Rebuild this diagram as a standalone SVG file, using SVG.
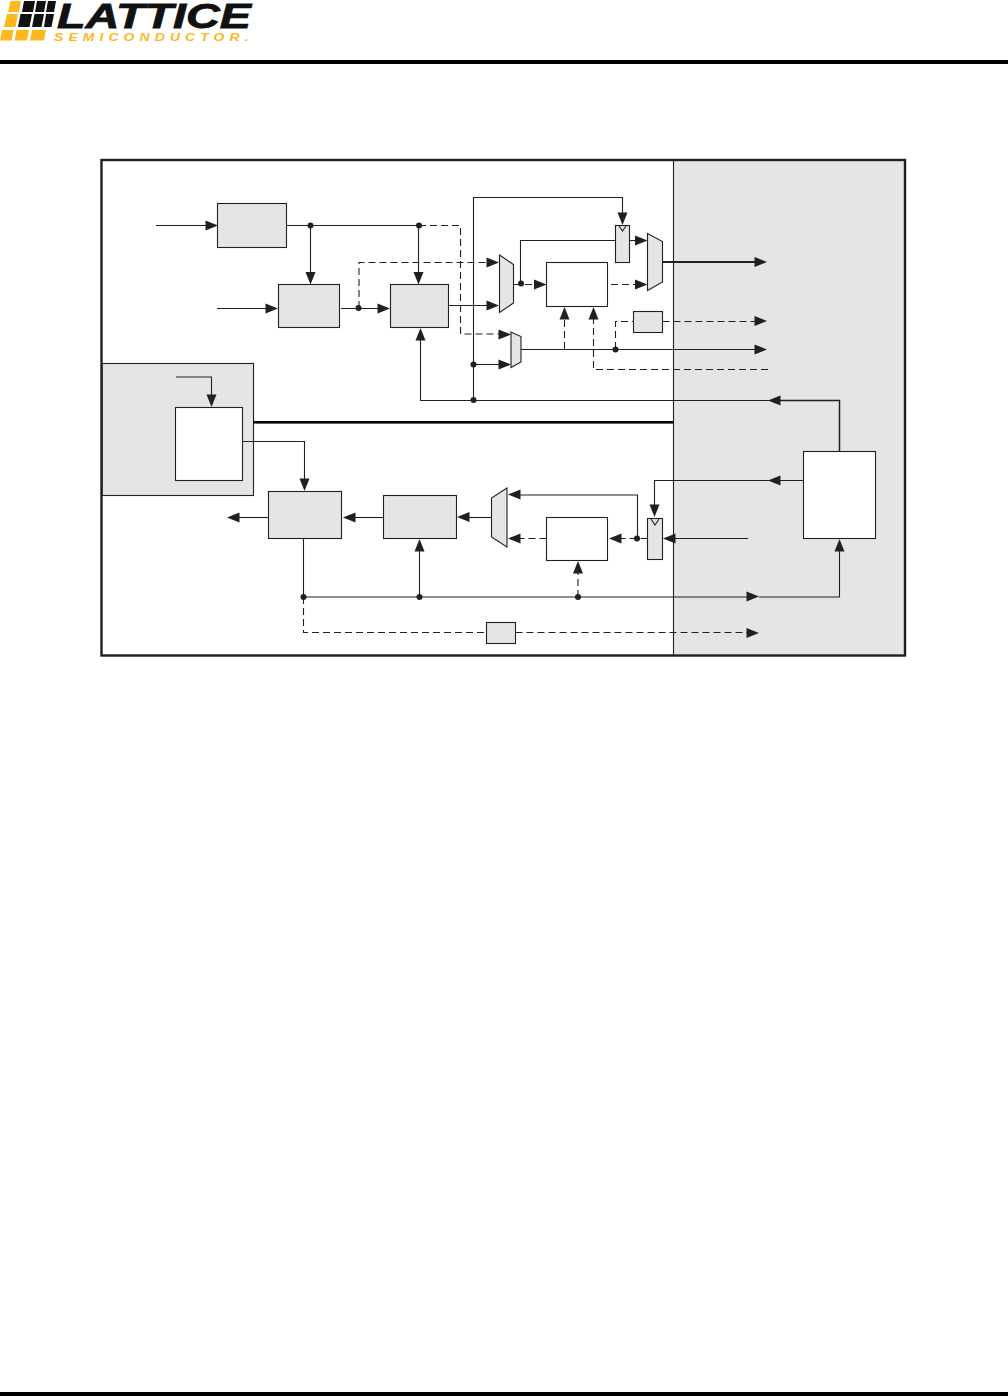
<svg xmlns="http://www.w3.org/2000/svg" width="1008" height="1396" viewBox="0 0 1008 1396">
<style>
.g{fill:#e5e5e5;stroke:#231f20;stroke-width:1.1}
.w{fill:#fff;stroke:#231f20;stroke-width:1.1}
.l{fill:none;stroke:#231f20;stroke-width:1.1}
.d{fill:none;stroke:#231f20;stroke-width:1.1;stroke-dasharray:7 4}
.a{fill:#231f20;stroke:none}
.y{fill:#fdb81e}
.k{fill:#111}
</style>
<defs>
<polygon id="ar" class="a" points="0,0 -12.500,-5 -12.500,5"/>
<circle id="dot" class="a" r="3"/>
</defs>
<g id="logo">
<polygon class="y" points="10.500,1 21,1 19,12 8,12"/>
<polygon class="k" points="24,1 35,1 33,12 22,12"/>
<polygon class="k" points="37,1 46,1 44,12 35,12"/>
<polygon class="k" points="48,1 56,1 54,12 46,12"/>
<polygon class="y" points="7,14 18,14 15.500,27 4,27"/>
<polygon class="k" points="20.500,14 32,14 29.500,27 18,27"/>
<polygon class="k" points="34.500,14 44,14 41.500,27 32,27"/>
<polygon class="k" points="46,14 54,14 51.500,27 44,27"/>
<polygon class="y" points="2,30 13.500,30 11.500,40.500 0,40.500"/>
<polygon class="y" points="16.500,30 29,30 27,40.500 14.500,40.500"/>
<polygon class="y" points="32,30 46,30 44,40.500 30,40.500"/>
<text x="57" y="27.500" font-family="Liberation Sans, sans-serif" font-weight="bold" font-style="italic" font-size="35" textLength="194" lengthAdjust="spacingAndGlyphs" fill="#111" stroke="#111" stroke-width="0.8">LATTICE</text>
<text transform="translate(54,40.500) scale(1.4,1)" font-family="Liberation Sans, sans-serif" font-weight="bold" font-style="italic" font-size="10" textLength="139" fill="#fdb81e">SEMICONDUCTOR.</text>
</g>
<rect x="0" y="60" width="1008" height="4" fill="#000"/>
<rect x="0" y="1392" width="1008" height="4" fill="#000"/>
<g id="frame">
<rect x="673.500" y="160" width="231" height="495" fill="#e5e5e5"/>
<path class="l" d="M673.500 160V655"/>
</g>
<g id="left-panel"><rect class="g" x="102" y="363.500" width="151.500" height="132"/></g>
<rect x="253" y="421" width="421" height="2.600" fill="#000"/>
<rect x="101.500" y="160" width="803.500" height="495.500" fill="none" stroke="#231f20" stroke-width="2.400"/>
<g id="nodes">
<rect id="n1" class="g" x="217.500" y="203.500" width="69" height="44"/>
<rect id="n2" class="g" x="278.500" y="284.500" width="61" height="43"/>
<rect id="n3" class="g" x="390.500" y="284.500" width="58" height="43"/>
<polygon id="m1" class="g" points="499.500,255 513.500,264.500 513.500,303 499.500,312.500"/>
<polygon id="m2" class="g" points="511,332 521,336.500 521,362 511,367.500"/>
<polygon id="m3" class="g" points="647.500,233.500 662.500,241.500 662.500,282 647.500,290.500"/>
<rect id="n4" class="w" x="546.500" y="262.500" width="61" height="44"/>
<rect id="n5" class="g" x="615.500" y="225.500" width="14" height="37"/>
<path id="n5c" class="l" d="M619 226L622.500 231L626 226"/>
<rect id="n6" class="g" x="633.500" y="311.500" width="29" height="21"/>
<rect id="n7" class="w" x="175.500" y="407.500" width="67" height="73"/>
<rect id="n8" class="g" x="268.500" y="491.500" width="73" height="47"/>
<rect id="n9" class="g" x="383.500" y="495.500" width="73" height="43"/>
<polygon id="m4" class="g" points="507,488 491.500,498 491.500,537 507,547"/>
<rect id="n10" class="w" x="546.500" y="517.500" width="61" height="43"/>
<rect id="n11" class="g" x="647.500" y="518.500" width="15" height="41"/>
<path id="n11c" class="l" d="M651 519L655 525L659 519"/>
<rect id="n12" class="g" x="486.500" y="622.500" width="29" height="21"/>
<rect id="n13" class="w" x="803.500" y="451.500" width="72" height="87"/>
</g>
<g id="connectors">
<path class="l" d="M156 225.500H206"/>
<path class="l" d="M286.500 225.500H419"/>
<path class="d" d="M419 225.500H460.500V334H500"/>
<path class="l" d="M310.500 225.500V273"/>
<path class="l" d="M418.500 225.500V273"/>
<path class="l" d="M217 308.500H266"/>
<path class="l" d="M341 308.500H378"/>
<path class="d" d="M359 308V262.500H488"/>
<path class="l" d="M448.500 305.500H488"/>
<path class="l" d="M473.500 400V197.500H622.500V214"/>
<path class="l" d="M473.500 364.500H499"/>
<path class="l" d="M420.500 339V400.500H770"/>
<path class="l" d="M520.500 284V240.500H615.500"/>
<path class="d" d="M514 284.500H535"/>
<path class="l" d="M629.500 240.500H636"/>
<path class="d" d="M611 284.500H636"/>
<path d="M662.500 262H756" fill="none" stroke="#231f20" stroke-width="2"/>
<path class="l" d="M521 349.500H756"/>
<path class="d" d="M564.500 349V318"/>
<path class="d" d="M768 369.500H593.500V318"/>
<path class="d" d="M615.500 349V321.500H633.500"/>
<path class="d" d="M662.500 321.500H756"/>
<path d="M780 400.500H839.500V451.500" fill="none" stroke="#231f20" stroke-width="1.500"/>
<path class="l" d="M176 377H211.500V396"/>
<path class="l" d="M242.500 441.500H304.500V480"/>
<path class="l" d="M268.500 517.500H239"/>
<path class="l" d="M383.500 517.500H354"/>
<path class="l" d="M491.500 517.500H469"/>
<path class="l" d="M637.500 538V495H520"/>
<path class="d" d="M546.500 538.500H520"/>
<path class="d" d="M647.500 538.500H621"/>
<path class="l" d="M748 538.500H675"/>
<path class="l" d="M803.500 480.500H654.500V506"/>
<path class="l" d="M303.500 538.500V597H748"/>
<path class="l" d="M759 597H839.500V550"/>
<path class="l" d="M419.500 597V550"/>
<path class="d" d="M578 597V572"/>
<path class="d" d="M303.500 597V632.500H486.500"/>
<path class="d" d="M515.500 632.500H748"/>
<use href="#ar" transform="translate(218,225.500)"/>
<use href="#ar" transform="translate(278,308.500)"/>
<use href="#ar" transform="translate(310.500,284.500) rotate(90)"/>
<use href="#ar" transform="translate(418.500,284.500) rotate(90)"/>
<use href="#ar" transform="translate(390,308.500)"/>
<use href="#ar" transform="translate(499,262.500)"/>
<use href="#ar" transform="translate(499,305.500)"/>
<use href="#ar" transform="translate(511,334.500)"/>
<use href="#ar" transform="translate(511,364.500)"/>
<use href="#ar" transform="translate(546.500,284.500)"/>
<use href="#ar" transform="translate(622.500,225) rotate(90)"/>
<use href="#ar" transform="translate(647.500,240.500)"/>
<use href="#ar" transform="translate(647.500,284.500)"/>
<use href="#ar" transform="translate(767,262)"/>
<use href="#ar" transform="translate(767,321)"/>
<use href="#ar" transform="translate(767,349.500)"/>
<use href="#ar" transform="translate(564.500,307) rotate(-90)"/>
<use href="#ar" transform="translate(593.500,307) rotate(-90)"/>
<use href="#ar" transform="translate(420.500,328) rotate(-90)"/>
<use href="#ar" transform="translate(768,400.500) rotate(180)"/>
<use href="#ar" transform="translate(211.500,407) rotate(90)"/>
<use href="#ar" transform="translate(304.500,491) rotate(90)"/>
<use href="#ar" transform="translate(227,517.500) rotate(180)"/>
<use href="#ar" transform="translate(343,517.500) rotate(180)"/>
<use href="#ar" transform="translate(457,517) rotate(180)"/>
<use href="#ar" transform="translate(508,494.500) rotate(180)"/>
<use href="#ar" transform="translate(508,538.500) rotate(180)"/>
<use href="#ar" transform="translate(609,538.500) rotate(180)"/>
<use href="#ar" transform="translate(663,538.500) rotate(180)"/>
<use href="#ar" transform="translate(768,480.500) rotate(180)"/>
<use href="#ar" transform="translate(654.500,517) rotate(90)"/>
<use href="#ar" transform="translate(759,596.500)"/>
<use href="#ar" transform="translate(759,633)"/>
<use href="#ar" transform="translate(839.500,539) rotate(-90)"/>
<use href="#ar" transform="translate(419.500,539) rotate(-90)"/>
<use href="#ar" transform="translate(578,561) rotate(-90)"/>
<use href="#dot" x="310.500" y="225.500"/>
<use href="#dot" x="419" y="225.500"/>
<use href="#dot" x="358.500" y="308"/>
<use href="#dot" x="473.500" y="364.500"/>
<use href="#dot" x="473.500" y="400"/>
<use href="#dot" x="521" y="283.500"/>
<use href="#dot" x="615.500" y="349.500"/>
<use href="#dot" x="637" y="538.500"/>
<use href="#dot" x="303.500" y="597"/>
<use href="#dot" x="419.500" y="597"/>
<use href="#dot" x="578" y="597"/>
</g>
</svg>
